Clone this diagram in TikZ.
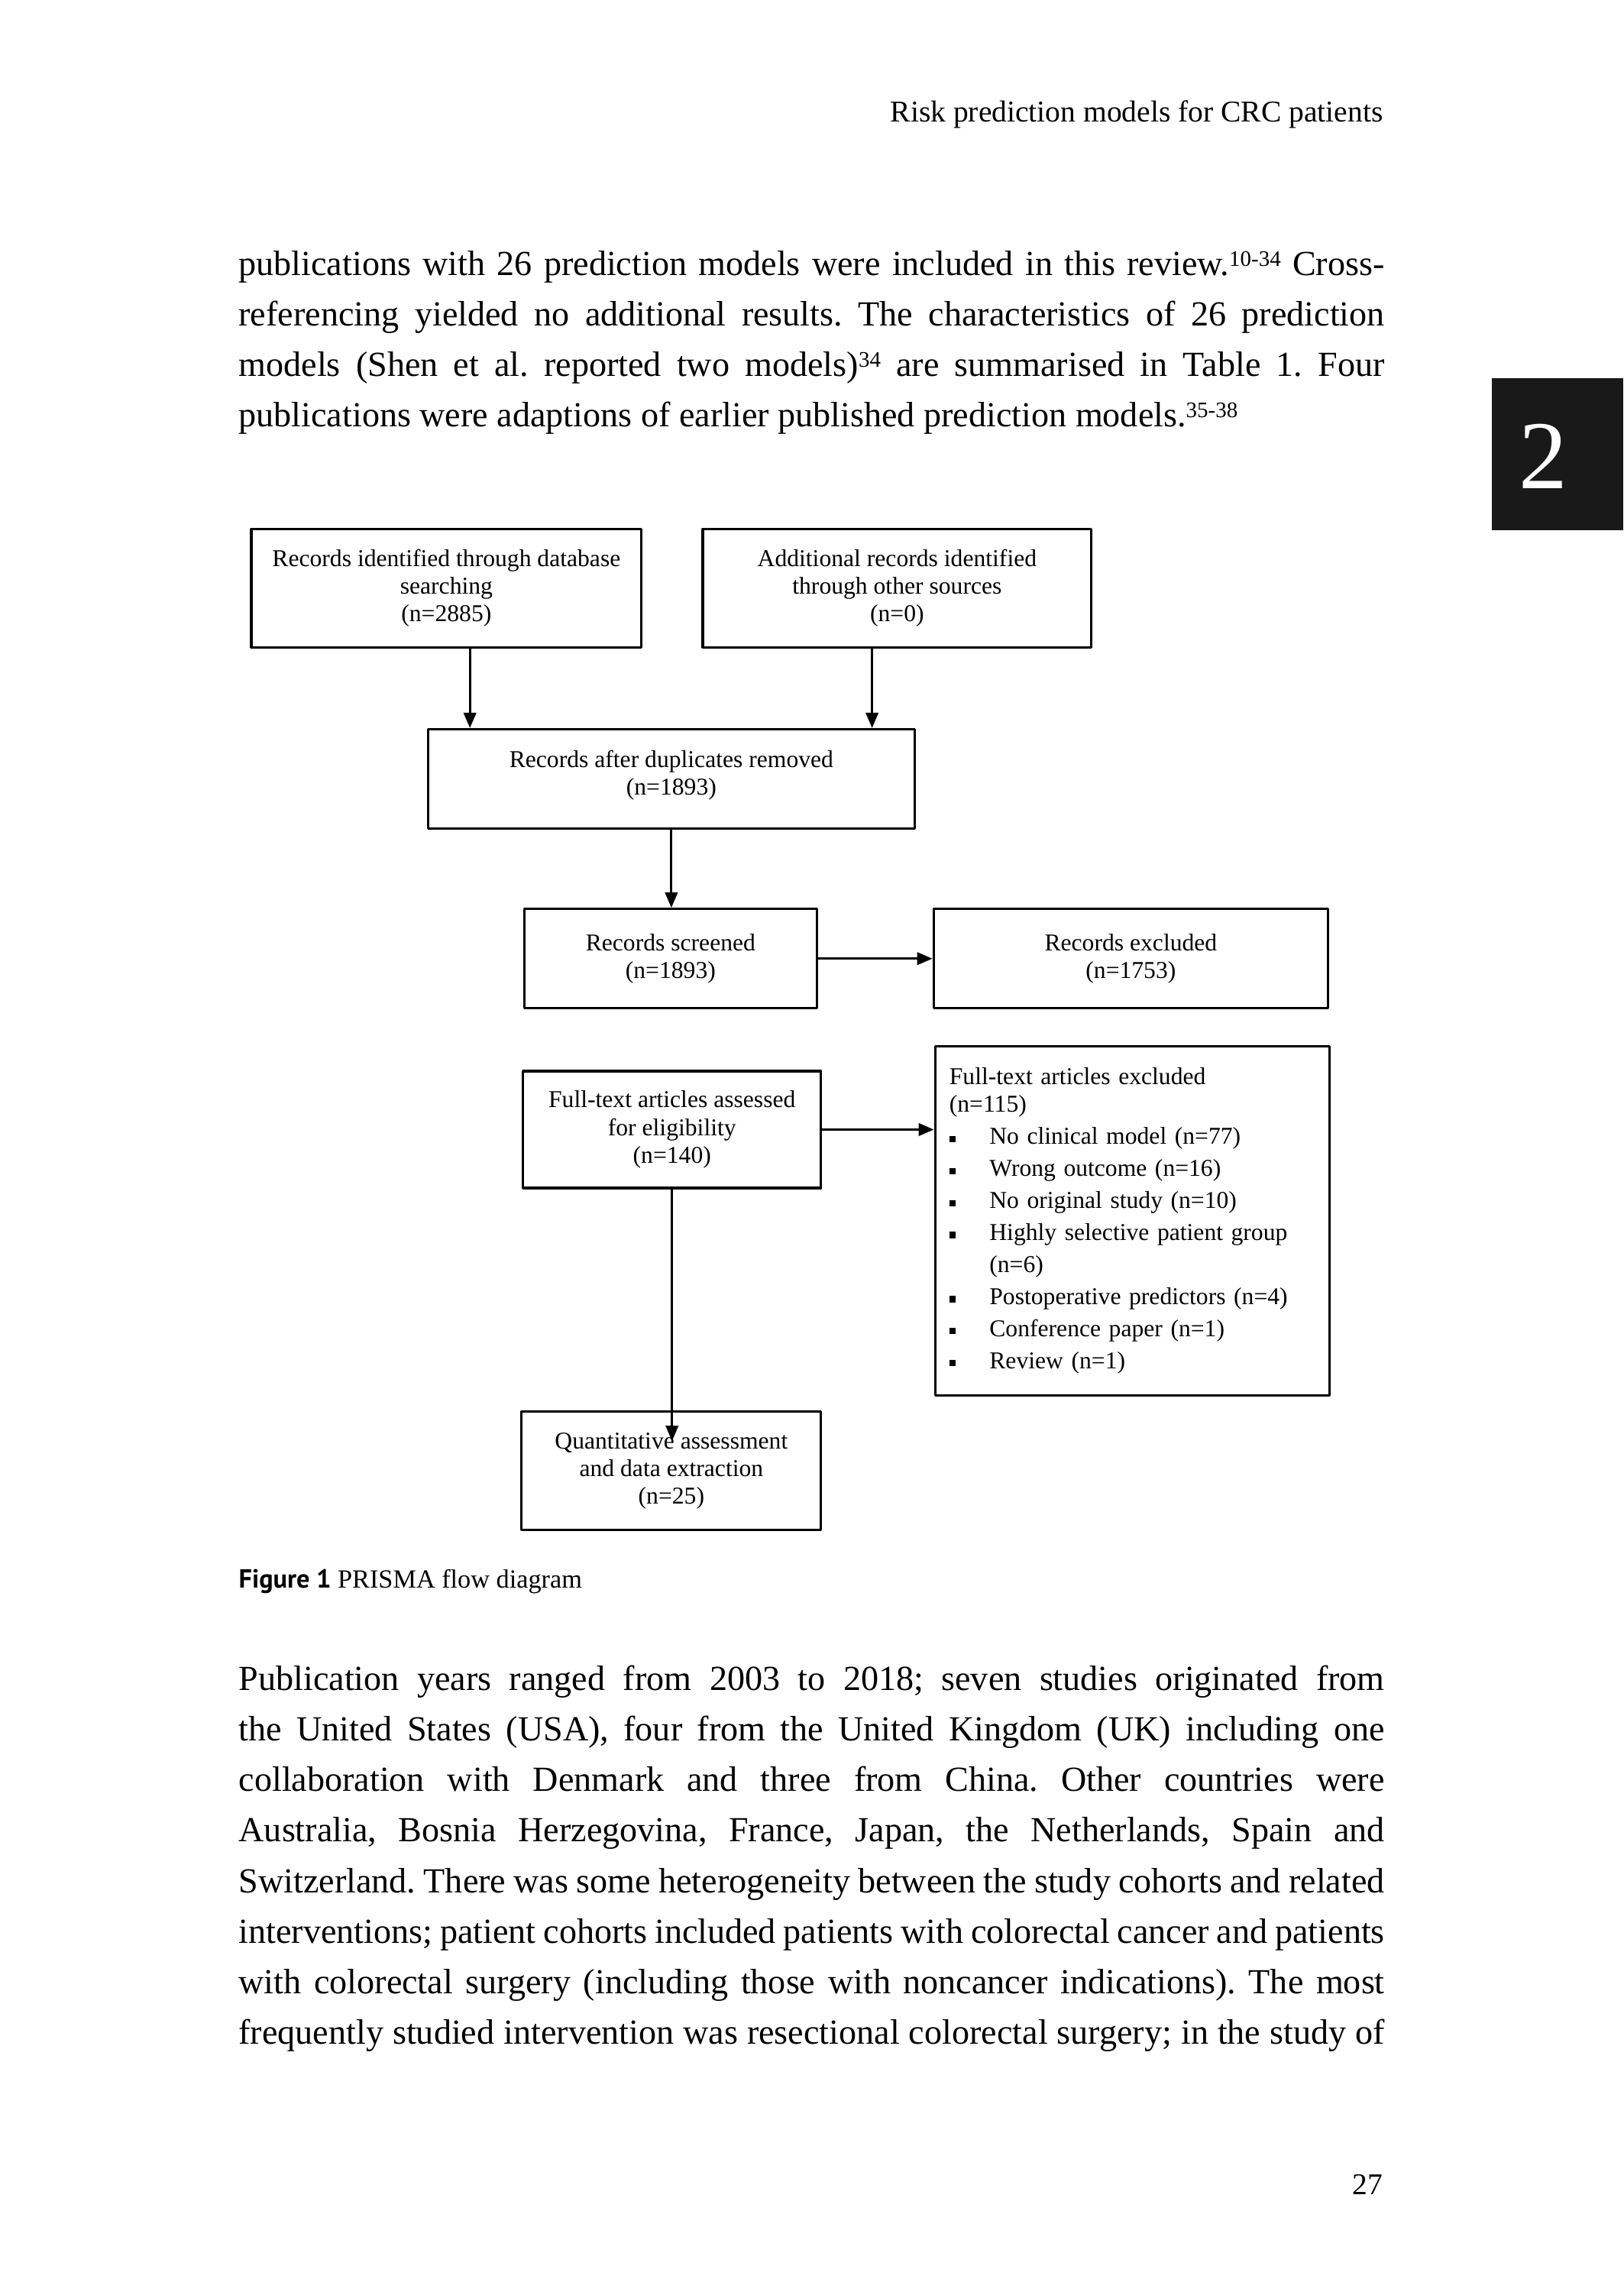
\documentclass[tikz,border=0pt]{standalone}
\usepackage{fontspec}
\setmainfont{Liberation Serif}
\newfontfamily\capfont{PT Sans}
\usepackage{tikz}
\usetikzlibrary{arrows.meta,calc}
\frenchspacing
\tikzset{
  every picture/.style={line join=round, line cap=round, >={Stealth[length=1.6mm,width=1.3mm,inset=0pt]}},
  box/.style={draw, line width=0.7pt, align=center, inner sep=0pt, font=\fontsize{7.2}{8.25}\selectfont},
  flow/.style={->, line width=0.7pt},
  bodyline/.style={anchor=base west, inner sep=0pt, font=\fontsize{10.5}{14}\selectfont},
}
\newcommand{\jline}[1]{\makebox[12cm][s]{#1}}
\newcommand{\sups}[1]{\raisebox{2.7pt}{\fontsize{6.6}{6.6}\selectfont #1}}
\newcommand{\sqbul}{\makebox[0.42cm][l]{\raisebox{0.25mm}{\rule{0.65mm}{0.65mm}}}}

\begin{document}
\begin{tikzpicture}
\useasboundingbox (0,0) rectangle (17,-24);
\fill[white] (0,0) rectangle (17,-24);
\node[anchor=base east, inner sep=0pt, font=\fontsize{9}{9}\selectfont] (runhead) at (14.49,-1.274) {Risk prediction models for CRC patients};
\fill[black!90] (15.62,-3.963) rectangle (17,-5.555);
\node[white, font=\fontsize{29}{29}\selectfont] (chapno) at (16.16,-4.775) {2};

\node[bodyline] (top1) at (2.494,-2.886) {\jline{publications with 26 prediction models were included in this review.\sups{10-34} Cross-}};
\node[bodyline] (top2) at (2.494,-3.414) {\jline{referencing yielded no additional results. The characteristics of 26 prediction}};
\node[bodyline] (top3) at (2.494,-3.942) {\jline{models (Shen et al. reported two models)\sups{34} are summarised in Table 1. Four}};
\node[bodyline] (top4) at (2.494,-4.470) {publications were adaptions of earlier published prediction models.\sups{35-38}};

\node[box, minimum width=4.086cm, minimum height=1.239cm] (dbase) at (4.675,-6.159) {Records identified through database\\searching\\(n=2885)};
\node[box, minimum width=4.07cm, minimum height=1.239cm] (other) at (9.395,-6.159) {Additional records identified\\through other sources\\(n=0)};
\node[box, minimum width=5.096cm, minimum height=1.041cm] (dupl) at (7.031,-8.156) {Records after duplicates removed\\(n=1893)\\[-4.6pt]};
\node[box, minimum width=3.06cm, minimum height=1.041cm] (scrn) at (7.023,-10.038) {Records screened\\(n=1893)};
\node[box, minimum width=4.131cm, minimum height=1.041cm] (excl) at (11.843,-10.038) {Records excluded\\(n=1753)};
\node[box, minimum width=3.122cm, minimum height=1.224cm] (elig) at (7.038,-11.828) {Full-text articles assessed\\for eligibility\\(n=140)};
\node[box, align=left, inner xsep=0.15cm, text width=3.832cm, minimum height=3.657cm] (ftex) at (11.859,-12.784) {Full-text articles excluded\\(n=115)\\[1.3pt]
\sqbul No clinical model (n=77)\\[1.3pt]
\sqbul Wrong outcome (n=16)\\[1.3pt]
\sqbul No original study (n=10)\\[1.3pt]
\sqbul Highly selective patient group\\[1.3pt]
\hspace*{0.42cm}(n=6)\\[1.3pt]
\sqbul Postoperative predictors (n=4)\\[1.3pt]
\sqbul Conference paper (n=1)\\[1.3pt]
\sqbul Review (n=1)};
\node[box, minimum width=3.137cm, minimum height=1.239cm] (quant) at (7.031,-15.401) {Quantitative assessment\\and data extraction\\(n=25)};

\coordinate (dtail) at ($(dbase.south west)!0.56!(dbase.south east)$);
\coordinate (otail) at ($(other.south west)!0.436!(other.south east)$);
\coordinate (qtip) at ($(quant.north)+(0,-0.32)$);
\draw[flow] (dtail) -- (dtail |- dupl.north);
\draw[flow] (otail) -- (otail |- dupl.north);
\draw[flow] (dupl.south) -- (dupl.south |- scrn.north);
\draw[flow] (scrn) -- (excl);
\draw[flow] (elig) -- (elig -| ftex.west);
\draw[flow] (elig.south) -- (elig.south |- qtip);

\node[anchor=base west, inner sep=0pt, font=\fontsize{7.8}{9}\selectfont] (figcap) at (2.494,-16.63) {{\capfont\bfseries Figure 1} PRISMA flow diagram};

\node[bodyline] (low1) at (2.494,-17.70) {\jline{Publication years ranged from 2003 to 2018; seven studies originated from}};
\node[bodyline] (low2) at (2.494,-18.229) {\jline{the United States (USA), four from the United Kingdom (UK) including one}};
\node[bodyline] (low3) at (2.494,-18.758) {\jline{collaboration with Denmark and three from China. Other countries were}};
\node[bodyline] (low4) at (2.494,-19.287) {\jline{Australia, Bosnia Herzegovina, France, Japan, the Netherlands, Spain and}};
\node[bodyline] (low5) at (2.494,-19.816) {\jline{Switzerland. There was some heterogeneity between the study cohorts and related}};
\node[bodyline] (low6) at (2.494,-20.345) {\jline{interventions; patient cohorts included patients with colorectal cancer and patients}};
\node[bodyline] (low7) at (2.494,-20.874) {\jline{with colorectal surgery (including those with noncancer indications). The most}};
\node[bodyline] (low8) at (2.494,-21.403) {\jline{frequently studied intervention was resectional colorectal surgery; in the study of}};

\node[anchor=base east, inner sep=0pt, font=\fontsize{9}{9}\selectfont] (pageno) at (14.49,-22.98) {27};
\end{tikzpicture}
\end{document}
